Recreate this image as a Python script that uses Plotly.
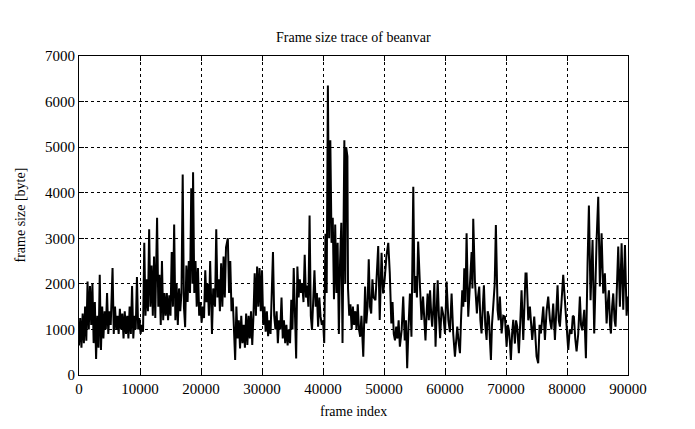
import plotly.graph_objects as go

frame_index = [
    0, 200, 400, 600, 800, 1000, 1200, 1400, 1600, 1800, 2000, 2200, 2400, 2600, 2800, 3000, 3200, 3400, 3600, 3800,
    4000, 4200, 4400, 4600, 4800, 5000, 5200, 5500, 5700, 5900, 6100, 6300, 6500, 6700, 6900, 7100, 7300, 7500, 7700, 7900,
    8100, 8300, 8500, 8700, 8900, 9100, 9300, 9500, 9700, 9900, 10100, 10300, 10500, 10700, 10900, 11100, 11300, 11500, 11700, 11900,
    12100, 12300, 12500, 12800, 13000, 13200, 13400, 13600, 13800, 14000,
    14200, 14400, 14600, 14800, 15000, 15200, 15400, 15600, 15800, 16000, 16200, 16400, 16600, 16800, 17000, 17200, 17400, 17600, 17800, 18000,
    18200, 18400, 18600, 18700, 18900, 19100, 19300, 19500, 19700, 19900, 20100, 20300, 20500, 20700, 20900, 21100, 21300, 21500, 21800, 22000,
    22300, 22500, 22700, 22900, 23100, 23300, 23500, 23700, 23900, 24100, 24400, 24600, 24800, 25000, 25200, 25400, 25600, 25800, 26000, 26200,
    26400, 26600, 26800, 27000, 27200, 27400, 27600, 27800, 28000, 28200, 28400, 28600, 28800, 29000, 29200,
    29400, 29600, 29800, 30000, 30200, 30400, 30600, 30800, 31000, 31200, 31400, 31600, 31800, 32000, 32200, 32400, 32600, 32800, 33000, 33200,
    33400, 33600, 33800, 34000, 34200, 34400, 34600, 34800, 35000, 35200, 35400, 35600, 35800, 36000, 36200, 36400, 36600, 36800, 37000, 37200,
    37400, 37600, 37800, 38000, 38200, 38400, 38600, 38800, 39000, 39200, 39400, 39600, 39800, 40000, 40200, 40400, 40600, 40800, 41000, 41200,
    41400, 41600, 41800, 42000, 42200, 42400, 42600, 42800, 43000, 43200, 43400, 43500, 43650, 43800, 44000,
    44100, 44300, 44500, 44700, 44900, 45100, 45300, 45500, 45700, 45900, 46100, 46300, 46600, 46900, 47100, 47300, 47500, 47700, 47900, 48100,
    48300, 48600, 48800, 49050, 49300, 49600, 49850, 50100, 50400, 50700, 50950, 51200, 51400, 51600, 51800, 52000, 52200, 52400, 52600, 52900,
    53150, 53400, 53600, 53800, 54000, 54250, 54500, 54800, 55000, 55200, 55400, 55600, 55900, 56150, 56400, 56600, 56800, 57000, 57150, 57350,
    57550, 57750, 57900, 58100, 58250, 58450, 58650, 58800,
    59000, 59200, 59450, 59720, 60000, 60260, 60550, 60810, 61080, 61350, 61630, 62010, 62250, 62450, 62650, 62830, 63000, 63160, 63350, 63540,
    63810, 64000, 64140, 64360, 64500, 64630, 64900, 65050, 65230, 65400, 65610, 65800, 65990, 66200, 66380, 66600, 66820, 67000, 67200, 67350,
    67530, 67700, 67910, 68150, 68340, 68620, 68800, 69000, 69280, 69550, 69820, 70100, 70300, 70480, 70650, 70800, 71000, 71190, 71460, 71650,
    71840, 72110, 72350, 72550, 72830, 73000, 73200,
    73370, 73650, 73920, 74100, 74300, 74630, 74800, 75010, 75280, 75500, 75720, 75900, 76110, 76380, 76650, 76920, 77200, 77450, 77740, 78020,
    78250, 78450, 78650, 78840, 79100, 79380, 79650, 79930, 80200, 80450, 80750, 80950, 81130, 81350, 81570, 81840, 82110, 82300, 82500, 82830,
    83100, 83370, 83590, 83860, 84190, 84460, 84650, 84850, 85120, 85390, 85670, 85940, 86210, 86490, 86700, 86870, 87050, 87200, 87400, 87580,
    87800, 87960, 88200, 88400, 88670, 88950, 89220, 89500, 89770, 90000,
]

frame_size = [
    650, 1250, 600, 1350, 700, 1500, 750, 2050, 1000, 1950, 1100, 2000, 700, 1600, 350, 1300, 600, 2200, 550, 1500,
    800, 1400, 1000, 1800, 900, 1400, 1100, 2350, 900, 1500, 1000, 1300, 900, 1450, 1000, 1350, 800, 1400, 900, 1300,
    800, 1500, 900, 1950, 800, 1300, 1000, 2150, 1000, 1250, 900, 1100, 950, 2900, 1300, 2100, 1400, 3200, 1500, 2400,
    1300, 2600, 1250, 3450, 1500, 2200, 1100, 2500, 1200, 1800,
    1300, 1800, 1200, 1750, 1300, 2700, 1500, 3300, 1200, 2000, 1100, 1900, 1400, 1800, 4400, 1500, 1050, 2400, 1600, 2500,
    1800, 4100, 2000, 4450, 1800, 2500, 1500, 2350, 1300, 1600, 1150, 1500, 1250, 2300, 1600, 2000, 1300, 2500, 900, 1900,
    1500, 3200, 1700, 2100, 1400, 2450, 1500, 2600, 1700, 2800, 3000, 1800, 2500, 1400, 1700, 1000, 330, 1500, 800, 1200,
    580, 1300, 700, 1100, 600, 1350, 660, 1300, 800, 1400, 660, 1300, 2230, 1300, 2380,
    1500, 2350, 1400, 2300, 1100, 1500, 950, 1400, 850, 1200, 900, 1800, 2700, 1300, 1000, 1400, 700, 1200, 1000, 1700,
    800, 1200, 700, 1100, 650, 1000, 700, 1650, 1000, 2350, 1000, 360, 2380, 1700, 2100, 1800, 2000, 1600, 2640, 1700,
    1960, 1500, 3500, 1300, 990, 1700, 2300, 1500, 1800, 1060, 1700, 1280, 1100, 1200, 700, 3100, 1800, 6350, 3000, 5150,
    2900, 3450, 1660, 3300, 1800, 2900, 900, 2500, 3340, 700, 3000, 5150, 2000, 5000, 4800,
    1900, 1300, 1550, 1000, 1500, 1100, 1400, 1000, 1550, 1000, 840, 1300, 400, 1940, 1130, 1500, 2540, 1500, 1350, 2100,
    1700, 1640, 2300, 2830, 1210, 2680, 1790, 2080, 2610, 2900, 2230, 1130, 1600, 900, 760, 1060, 800, 1200, 620, 990,
    1720, 760, 1200, 150, 1000, 1790, 840, 4130, 1800, 2170, 1700, 2930, 1940, 1210, 1720, 1100, 760, 1400, 1790, 1200,
    1860, 1300, 1060, 1500, 2020, 620, 1600, 2080,
    1300, 810, 1500, 1320, 900, 2050, 1200, 940, 1790, 900, 400, 1060, 700, 480, 1300, 1860, 1500, 2340, 1600, 3110,
    1280, 1800, 2230, 2700, 1900, 3430, 2080, 1600, 1350, 1700, 1940, 1200, 910, 1500, 1970, 1100, 770, 1400, 1280, 800,
    330, 1100, 1640, 2000, 3290, 1430, 1200, 1720, 910, 1300, 1280, 620, 1100, 980, 700, 330, 900, 1210, 690, 1200,
    1060, 480, 1200, 1860, 770, 1500, 2230,
    2230, 1200, 1500, 1000, 770, 1280, 800, 410, 260, 1100, 910, 1300, 1500, 770, 1400, 1720, 1210, 1000, 1570, 770,
    1400, 1970, 1200, 1060, 1600, 2200, 1650, 1060, 550, 1000, 900, 1300, 1280, 800, 520, 900, 1720, 1100, 980, 1430,
    370, 2450, 3720, 1640, 2960, 910, 2000, 2960, 3910, 1940, 3110, 1790, 2230, 1130, 1600, 1860, 1100, 910, 1500, 1790,
    1200, 1060, 2000, 2820, 1500, 2890, 1430, 2850, 1300, 1720,
]

x_tick_values = [0, 10000, 20000, 30000, 40000, 50000, 60000, 70000, 80000, 90000]
y_tick_values = [0, 1000, 2000, 3000, 4000, 5000, 6000, 7000]

fig = go.Figure()
fig.add_trace(go.Scatter(
    x=frame_index, y=frame_size, mode="lines",
    line=dict(color="black", width=2),
    showlegend=False, hoverinfo="skip",
))

font_family = "Liberation Serif"
axis_common = dict(
    showline=True, linecolor="black", linewidth=1, mirror="ticks",
    ticks="inside", ticklen=5, tickcolor="black",
    showgrid=True, gridcolor="black", gridwidth=1, griddash="dot",
    zeroline=False,
    tickfont=dict(family=font_family, size=15, color="black"),
)

fig.update_layout(
    width=687, height=421,
    margin=dict(l=71, r=67, t=48, b=54),
    paper_bgcolor="white", plot_bgcolor="white",
    xaxis=dict(range=[0, 90000], tickvals=x_tick_values,
               ticktext=[str(v) for v in x_tick_values], **axis_common),
    yaxis=dict(range=[0, 7000], tickvals=y_tick_values,
               ticktext=[str(v) for v in y_tick_values], **axis_common),
    annotations=[
        dict(text="Frame size trace of beanvar", xref="paper", yref="paper",
             x=0.5, y=1.0 + 18/319, xanchor="center", yanchor="middle",
             showarrow=False, font=dict(family=font_family, size=14, color="black")),
        dict(text="frame index", xref="paper", yref="paper",
             x=0.5, y=-36/319, xanchor="center", yanchor="middle",
             showarrow=False, font=dict(family=font_family, size=14, color="black")),
        dict(text="frame size [byte]", xref="paper", yref="paper",
             x=-59/549, y=0.5, xanchor="center", yanchor="middle", textangle=-90,
             showarrow=False, font=dict(family=font_family, size=14, color="black")),
    ],
)

fig.write_html("out.html")
